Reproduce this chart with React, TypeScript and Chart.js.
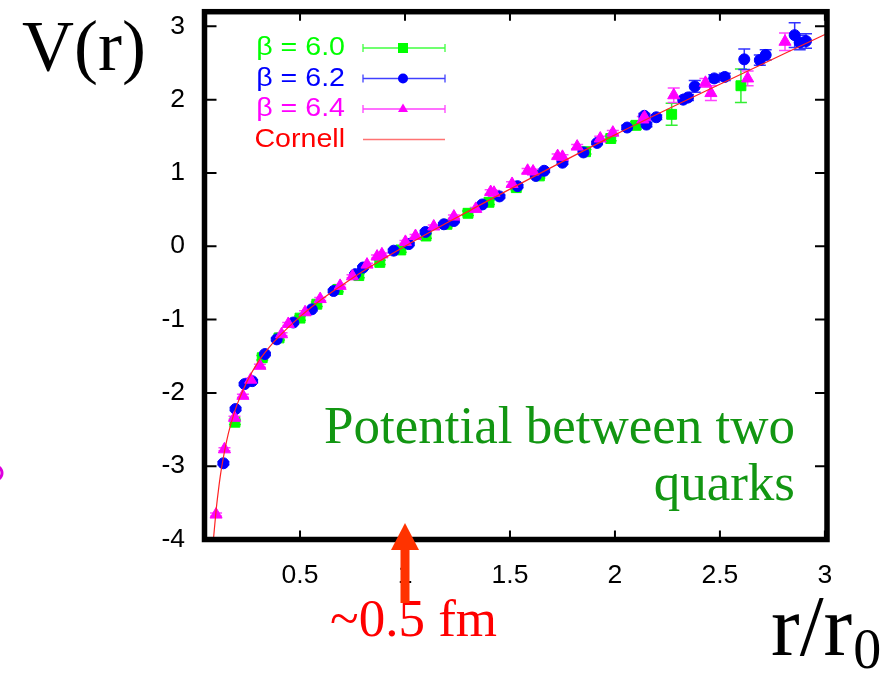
import React, { useEffect, useRef } from "react";
import { Chart, registerables } from "chart.js";

Chart.register(...registerables);

// ---- axis ticks ----
const xTickValues = [0.5, 1, 1.5, 2, 2.5, 3];
const xTickLabels = ["0.5", "1", "1.5", "2", "2.5", "3"];
const yTickValues = [-4, -3, -2, -1, 0, 1, 2, 3];
const yTickLabels = ["-4", "-3", "-2", "-1", "0", "1", "2", "3"];

// ---- beta = 6.0 (green squares) ----
const greenX = [0.19, 0.32, 0.4, 0.5, 0.58, 0.68, 0.78, 0.88, 0.98, 1.1, 1.2, 1.3, 1.4, 1.53, 1.64, 1.86, 1.98, 2.1, 2.27, 2.6];
const greenY = [-2.4, -1.52, -1.25, -0.98, -0.79, -0.59, -0.4, -0.22, -0.05, 0.14, 0.3, 0.45, 0.6, 0.8, 0.96, 1.29, 1.47, 1.65, 1.8, 2.19];
const greenErr = [0.03, 0.03, 0.03, 0.03, 0.03, 0.03, 0.03, 0.03, 0.03, 0.03, 0.03, 0.03, 0.03, 0.03, 0.03, 0.03, 0.03, 0.05, 0.15, 0.23];

// ---- beta = 6.2 (blue circles) ----
const blueX = [0.135, 0.193, 0.236, 0.272, 0.333, 0.389, 0.468, 0.556, 0.66, 0.763, 0.8, 0.946, 1.018, 1.098, 1.185, 1.233, 1.368, 1.45, 1.536, 1.623, 1.663, 1.75, 1.85, 1.915, 2.058, 2.14, 2.15, 2.197, 2.325, 2.348, 2.38, 2.473, 2.523, 2.616, 2.69, 2.718, 2.856, 2.88, 2.91];
const blueY = [-2.96, -2.22, -1.88, -1.84, -1.47, -1.27, -1.04, -0.86, -0.61, -0.38, -0.29, -0.06, 0.03, 0.195, 0.3, 0.345, 0.57, 0.68, 0.82, 0.96, 1.03, 1.14, 1.28, 1.41, 1.62, 1.78, 1.66, 1.76, 2.0, 2.03, 2.18, 2.29, 2.31, 2.55, 2.54, 2.61, 2.88, 2.78, 2.8];
const blueErr = [0.02, 0.02, 0.02, 0.02, 0.02, 0.02, 0.02, 0.02, 0.02, 0.02, 0.02, 0.02, 0.02, 0.02, 0.02, 0.02, 0.02, 0.02, 0.02, 0.02, 0.02, 0.02, 0.02, 0.02, 0.03, 0.03, 0.03, 0.03, 0.04, 0.04, 0.08, 0.05, 0.05, 0.14, 0.07, 0.07, 0.17, 0.1, 0.1];

// ---- beta = 6.4 (magenta triangles) ----
const magX = [0.1, 0.14, 0.188, 0.228, 0.265, 0.309, 0.412, 0.444, 0.524, 0.596, 0.691, 0.75, 0.819, 0.867, 0.89, 1.002, 1.05, 1.137, 1.233, 1.337, 1.408, 1.424, 1.51, 1.584, 1.61, 1.727, 1.75, 1.82, 1.93, 1.99, 2.133, 2.141, 2.28, 2.431, 2.457, 2.632, 2.81];
const magY = [-3.66, -2.77, -2.34, -2.04, -1.82, -1.63, -1.2, -1.06, -0.9, -0.72, -0.54, -0.41, -0.25, -0.14, -0.11, 0.06, 0.14, 0.27, 0.405, 0.51, 0.74, 0.73, 0.85, 1.03, 1.02, 1.23, 1.22, 1.36, 1.47, 1.55, 1.73, 1.76, 2.06, 2.23, 2.09, 2.29, 2.79];
const magErr = [0.02, 0.02, 0.02, 0.02, 0.02, 0.02, 0.02, 0.02, 0.02, 0.02, 0.02, 0.02, 0.02, 0.02, 0.02, 0.02, 0.02, 0.02, 0.02, 0.02, 0.03, 0.03, 0.03, 0.03, 0.03, 0.03, 0.03, 0.03, 0.03, 0.03, 0.04, 0.04, 0.1, 0.06, 0.1, 0.1, 0.12];

// ---- Cornell fit curve ----
const cornellX = [0.0875, 0.1, 0.11, 0.12, 0.13, 0.15, 0.17, 0.2, 0.25, 0.3, 0.35, 0.4, 0.5, 0.6, 0.7, 0.8, 1.0, 1.2, 1.5, 2.0, 2.5, 3.0];
const cornellY = [-4.0, -3.61, -3.36, -3.14, -2.96, -2.66, -2.43, -2.16, -1.83, -1.58, -1.39, -1.23, -0.96, -0.73, -0.53, -0.34, 0.0, 0.32, 0.78, 1.52, 2.21, 2.89];

const legendLabels = ["\u03b2 = 6.0", "\u03b2 = 6.2", "\u03b2 = 6.4", "Cornell"];

const GREEN = "#00ff00";
const BLUE = "#0000ff";
const MAGENTA = "#ff00ff";
const RED = "#ff0000";

const pts = (xs: number[], ys: number[]) => xs.map((x, i) => ({ x, y: ys[i] }));

function sText(ctx: CanvasRenderingContext2D, text: string, x: number, y: number, align: CanvasTextAlign, sx: number) {
  ctx.save();
  ctx.translate(x, y);
  ctx.scale(sx, 1);
  ctx.textAlign = align;
  ctx.fillText(text, 0, 0);
  ctx.restore();
}

function drawMarker(ctx: CanvasRenderingContext2D, kind: string, x: number, y: number, s: number, color: string) {
  ctx.fillStyle = color;
  ctx.beginPath();
  if (kind === "rect") {
    ctx.rect(x - s, y - s, 2 * s, 2 * s);
  } else if (kind === "circle") {
    ctx.arc(x, y, s, 0, Math.PI * 2);
  } else {
    ctx.moveTo(x, y - s * 1.1);
    ctx.lineTo(x + s, y + s * 0.6);
    ctx.lineTo(x - s, y + s * 0.6);
    ctx.closePath();
  }
  ctx.fill();
}

const errSets = [
  { xs: greenX, ys: greenY, es: greenErr, color: "#33ee33" },
  { xs: blueX, ys: blueY, es: blueErr, color: "#3333ff" },
  { xs: magX, ys: magY, es: magErr, color: "#ff44ff" },
];

const decor = {
  id: "decor",
  beforeDatasetsDraw(chart: any) {
    const { ctx, scales } = chart;
    const xs = scales.x, ys = scales.y;
    ctx.save();
    ctx.lineWidth = 1.5;
    errSets.forEach((set) => {
      ctx.strokeStyle = set.color;
      set.xs.forEach((xv, i) => {
        const px = xs.getPixelForValue(xv);
        const pt = ys.getPixelForValue(set.ys[i] + set.es[i]);
        const pb = ys.getPixelForValue(set.ys[i] - set.es[i]);
        ctx.beginPath();
        ctx.moveTo(px, pt); ctx.lineTo(px, pb);
        ctx.moveTo(px - 6, pt); ctx.lineTo(px + 6, pt);
        ctx.moveTo(px - 6, pb); ctx.lineTo(px + 6, pb);
        ctx.stroke();
      });
    });
    ctx.restore();
  },
  afterDraw(chart: any) {
    const { ctx, chartArea: a, scales } = chart;
    const xs = scales.x, ys = scales.y;
    ctx.save();
    // inward ticks on all sides
    ctx.strokeStyle = "#000";
    ctx.lineWidth = 2;
    ctx.beginPath();
    xTickValues.forEach((v) => {
      const p = xs.getPixelForValue(v);
      ctx.moveTo(p, a.bottom); ctx.lineTo(p, a.bottom - 9);
      ctx.moveTo(p, a.top); ctx.lineTo(p, a.top + 9);
    });
    yTickValues.forEach((v) => {
      const p = ys.getPixelForValue(v);
      ctx.moveTo(a.left, p); ctx.lineTo(a.left + 12, p);
      ctx.moveTo(a.right, p); ctx.lineTo(a.right - 12, p);
    });
    ctx.stroke();
    // thick frame
    ctx.lineWidth = 5.5;
    ctx.strokeRect(a.left, a.top, a.right - a.left, a.bottom - a.top);

    // tick labels
    ctx.fillStyle = "#000";
    ctx.font = '26px "Liberation Sans", Arial, sans-serif';
    ctx.textBaseline = "middle";
    yTickValues.forEach((v, i) => {
      sText(ctx, yTickLabels[i], 185, ys.getPixelForValue(v), "right", 1.02);
    });
    xTickValues.forEach((v, i) => {
      sText(ctx, xTickLabels[i], xs.getPixelForValue(v), 576, "center", 1.02);
    });

    // legend
    const colors = [GREEN, BLUE, MAGENTA, RED];
    const kinds = ["rect", "circle", "triangle", "none"];
    const rows = [48, 78.5, 109, 139.5];
    ctx.font = '26px "Liberation Sans", Arial, sans-serif';
    rows.forEach((ry, i) => {
      ctx.fillStyle = colors[i];
      sText(ctx, legendLabels[i], 345, ry, "right", 1.1);
      ctx.strokeStyle = i === 3 ? "#ff4444" : colors[i];
      ctx.globalAlpha = 0.75;
      ctx.lineWidth = 1.3;
      ctx.beginPath();
      ctx.moveTo(363, ry); ctx.lineTo(445, ry);
      if (i < 3) {
        ctx.moveTo(363, ry - 4); ctx.lineTo(363, ry + 4);
        ctx.moveTo(445, ry - 4); ctx.lineTo(445, ry + 4);
      }
      ctx.stroke();
      ctx.globalAlpha = 1;
      if (i < 3) drawMarker(ctx, kinds[i], 403, ry, 5, colors[i]);
    });

    // big serif labels
    ctx.textBaseline = "alphabetic";
    ctx.textAlign = "left";
    ctx.fillStyle = "#000";
    ctx.font = '72px "Liberation Serif", "Times New Roman", serif';
    ctx.fillText("V(r)", 22, 70);
    ctx.font = '86px "Liberation Serif", "Times New Roman", serif';
    ctx.fillText("r/r", 771, 655);
    const w = ctx.measureText("r/r").width;
    ctx.font = '56px "Liberation Serif", "Times New Roman", serif';
    ctx.fillText("0", 771 + w + 1, 668);

    ctx.fillStyle = "#129612";
    ctx.font = '53px "Liberation Serif", "Times New Roman", serif';
    ctx.textAlign = "right";
    ctx.fillText("Potential between two", 795, 443);
    ctx.fillText("quarks", 795, 500);

    ctx.textAlign = "left";
    ctx.fillStyle = "#ff0000";
    ctx.font = '53px "Liberation Serif", "Times New Roman", serif';
    ctx.fillText("~0.5 fm", 330, 636);

    // arrow at r = r0
    const ax = xs.getPixelForValue(1);
    ctx.fillStyle = "#ff3300";
    ctx.fillRect(ax - 4.5, 545, 9, 58);
    ctx.beginPath();
    ctx.moveTo(ax, 523);
    ctx.lineTo(ax + 14, 550);
    ctx.lineTo(ax - 14, 550);
    ctx.closePath();
    ctx.fill();

    // sliver of a magenta ellipse at the left edge
    ctx.strokeStyle = "#dd00dd";
    ctx.lineWidth = 3;
    ctx.beginPath();
    ctx.ellipse(-22, 473, 24, 12, 0, 0, Math.PI * 2);
    ctx.stroke();
    ctx.restore();
  },
};

export default function App() {
  const ref = useRef<HTMLCanvasElement | null>(null);
  useEffect(() => {
    if (!ref.current) return;
    const chart = new Chart(ref.current, {
      type: "scatter",
      data: {
        datasets: [
          {
            label: "Cornell",
            data: pts(cornellX, cornellY),
            showLine: true,
            borderColor: "#ff2222",
            borderWidth: 1.2,
            pointRadius: 0,
            cubicInterpolationMode: "monotone",
            order: 0,
          } as any,
          {
            label: legendLabels[2],
            data: pts(magX, magY),
            pointStyle: "triangle",
            pointRadius: 7,
            backgroundColor: MAGENTA,
            borderColor: MAGENTA,
            borderWidth: 1,
            order: 1,
          },
          {
            label: legendLabels[1],
            data: pts(blueX, blueY),
            pointStyle: "circle",
            pointRadius: 5.5,
            backgroundColor: BLUE,
            borderColor: BLUE,
            borderWidth: 1,
            order: 2,
          },
          {
            label: legendLabels[0],
            data: pts(greenX, greenY),
            pointStyle: "rect",
            pointRadius: 7,
            backgroundColor: GREEN,
            borderColor: GREEN,
            borderWidth: 1,
            order: 3,
          },
        ],
      },
      options: {
        animation: false,
        responsive: false,
        layout: { padding: { top: 11.7, right: 63, left: 0, bottom: 0 } },
        plugins: { legend: { display: false }, tooltip: { enabled: false } },
        scales: {
          x: {
            type: "linear",
            position: "bottom",
            min: 0.045,
            max: 3.01,
            grid: { display: false, drawTicks: false },
            border: { display: false },
            ticks: { display: false },
            afterFit: (s: any) => { s.height = 133.5; },
          },
          y: {
            type: "linear",
            position: "left",
            min: -4,
            max: 3.2,
            grid: { display: false, drawTicks: false },
            border: { display: false },
            ticks: { display: false },
            afterFit: (s: any) => { s.width = 204.5; },
          },
        },
      },
      plugins: [decor],
    });
    return () => chart.destroy();
  }, []);
  return (
    <div style={{ position: "absolute", left: 0, top: 0, width: 890, height: 673, background: "#fff" }}>
      <canvas ref={ref} width={890} height={673} style={{ display: "block" }} />
    </div>
  );
}
